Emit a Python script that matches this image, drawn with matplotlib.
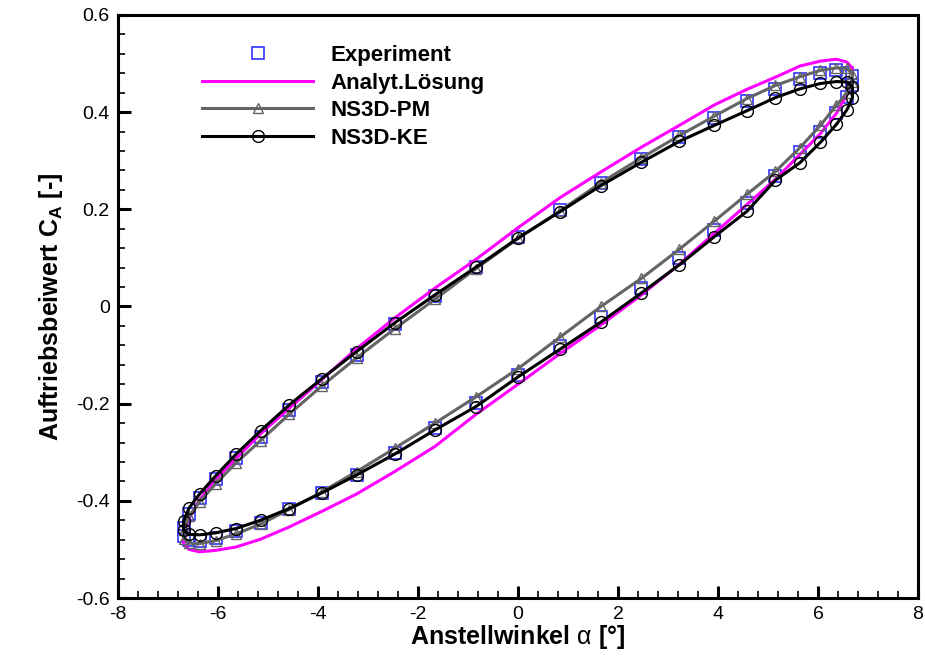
import matplotlib
matplotlib.use("Agg")
import matplotlib.pyplot as plt
from matplotlib.ticker import MultipleLocator, FuncFormatter

plt.rcParams['font.family'] = ['Liberation Sans', 'DejaVu Sans']
plt.rcParams['axes.unicode_minus'] = False
plt.rcParams['mathtext.fontset'] = 'custom'
plt.rcParams['mathtext.rm'] = 'Liberation Sans'
plt.rcParams['mathtext.bf'] = 'Liberation Sans:bold'
plt.rcParams['mathtext.it'] = 'Liberation Sans:italic'

# angle of attack at the sample points, once around the hysteresis loop
alpha = [0.0, 0.84, 1.66, 2.47, 3.23, 3.93, 4.58, 5.15, 5.64, 6.05, 6.37, 6.58, 6.69,
         6.69, 6.58, 6.37, 6.05, 5.64, 5.15, 4.58, 3.93, 3.23, 2.47, 1.66, 0.84, 0.0,
         -0.84, -1.66, -2.47, -3.23, -3.93, -4.58, -5.15, -5.64, -6.05, -6.37, -6.58, -6.69,
         -6.69, -6.58, -6.37, -6.05, -5.64, -5.15, -4.58, -3.93, -3.23, -2.47, -1.66, -0.84]

ca_exp = [0.143, 0.198, 0.254, 0.303, 0.349, 0.388, 0.423, 0.448, 0.468, 0.480, 0.487, 0.481, 0.474,
          0.456, 0.431, 0.398, 0.359, 0.318, 0.268, 0.213, 0.157, 0.099, 0.038, -0.022, -0.081, -0.142,
          -0.198, -0.250, -0.301, -0.346, -0.384, -0.417, -0.445, -0.463, -0.476, -0.482, -0.481, -0.472,
          -0.455, -0.428, -0.394, -0.355, -0.312, -0.268, -0.213, -0.155, -0.100, -0.036, 0.022, 0.081]

ca_analyt = [0.162, 0.224, 0.277, 0.328, 0.373, 0.415, 0.447, 0.472, 0.495, 0.505, 0.509, 0.503, 0.490,
             0.468, 0.436, 0.398, 0.356, 0.313, 0.262, 0.210, 0.151, 0.087, 0.024, -0.038, -0.097, -0.160,
             -0.222, -0.288, -0.340, -0.386, -0.422, -0.454, -0.479, -0.495, -0.502, -0.505, -0.500, -0.488,
             -0.468, -0.436, -0.398, -0.356, -0.313, -0.262, -0.210, -0.151, -0.087, -0.024, 0.038, 0.097]

ca_pm = [0.140, 0.197, 0.255, 0.306, 0.352, 0.392, 0.428, 0.455, 0.473, 0.486, 0.491, 0.490, 0.478,
         0.462, 0.440, 0.414, 0.373, 0.327, 0.278, 0.231, 0.176, 0.118, 0.058, 0.000, -0.063, -0.128,
         -0.186, -0.240, -0.292, -0.340, -0.382, -0.418, -0.448, -0.468, -0.482, -0.488, -0.487, -0.478,
         -0.460, -0.432, -0.402, -0.365, -0.322, -0.276, -0.222, -0.164, -0.106, -0.046, 0.015, 0.078]

ca_ke = [0.141, 0.195, 0.249, 0.297, 0.340, 0.373, 0.403, 0.430, 0.448, 0.459, 0.463, 0.462, 0.452,
         0.430, 0.405, 0.375, 0.338, 0.296, 0.260, 0.196, 0.144, 0.086, 0.028, -0.032, -0.088, -0.145,
         -0.206, -0.254, -0.304, -0.347, -0.384, -0.416, -0.440, -0.457, -0.466, -0.470, -0.469, -0.460,
         -0.442, -0.415, -0.386, -0.349, -0.304, -0.256, -0.203, -0.149, -0.093, -0.034, 0.024, 0.081]


def closed(v):
    return list(v) + [v[0]]


fig = plt.figure(figsize=(9.25, 6.57), dpi=100)
ax = fig.add_axes([0.1276, 0.0898, 0.8648, 0.8874])

ax.plot(alpha, ca_exp, linestyle='none', marker='s', markersize=8.5,
        markerfacecolor='none', markeredgecolor='#3232ff', markeredgewidth=1.2,
        label='Experiment', zorder=2)
ax.plot(closed(alpha), closed(ca_analyt), color='#ff00ff', linewidth=2.2,
        label='Analyt.Lösung', zorder=3)
ax.plot(closed(alpha), closed(ca_pm), color='#646464', linewidth=2.2,
        marker='^', markersize=7, markerfacecolor='none', markeredgecolor='#646464',
        markeredgewidth=1.0, markevery=list(range(50)), label='NS3D-PM', zorder=4)
ax.plot(closed(alpha), closed(ca_ke), color='black', linewidth=2.2,
        marker='o', markersize=8.5, markerfacecolor='none', markeredgecolor='black',
        markeredgewidth=1.0, markevery=list(range(50)), label='NS3D-KE', zorder=5)

ax.set_xlim(-8, 8)
ax.set_ylim(-0.6, 0.6)
ax.xaxis.set_major_locator(MultipleLocator(2))
ax.xaxis.set_minor_locator(MultipleLocator(0.4))
ax.yaxis.set_major_locator(MultipleLocator(0.2))
ax.yaxis.set_minor_locator(MultipleLocator(0.04))
ax.yaxis.set_major_formatter(FuncFormatter(lambda v, p: '%g' % round(v, 2)))

for s in ax.spines.values():
    s.set_linewidth(2.2)
ax.tick_params(which='major', direction='in', length=9, width=2.2, labelsize=14, pad=6,
               top=False, right=False)
ax.tick_params(which='minor', direction='in', length=5, width=1.2, top=False, right=False)

ax.set_xlabel(r'Anstellwinkel $\mathrm{\alpha}$ [°]', fontsize=18, fontweight='bold', labelpad=0)
ax.set_ylabel(r'Auftriebsbeiwert C$_{\mathbf{A}}$ [-]', fontsize=18, fontweight='bold', labelpad=8)

leg = ax.legend(loc='upper left', bbox_to_anchor=(0.08, 0.983), frameon=False,
                numpoints=1, handlelength=5.0, handletextpad=0.8, labelspacing=0.3,
                prop={'size': 16, 'weight': 'bold'})

fig.savefig('out.png', dpi=100)
